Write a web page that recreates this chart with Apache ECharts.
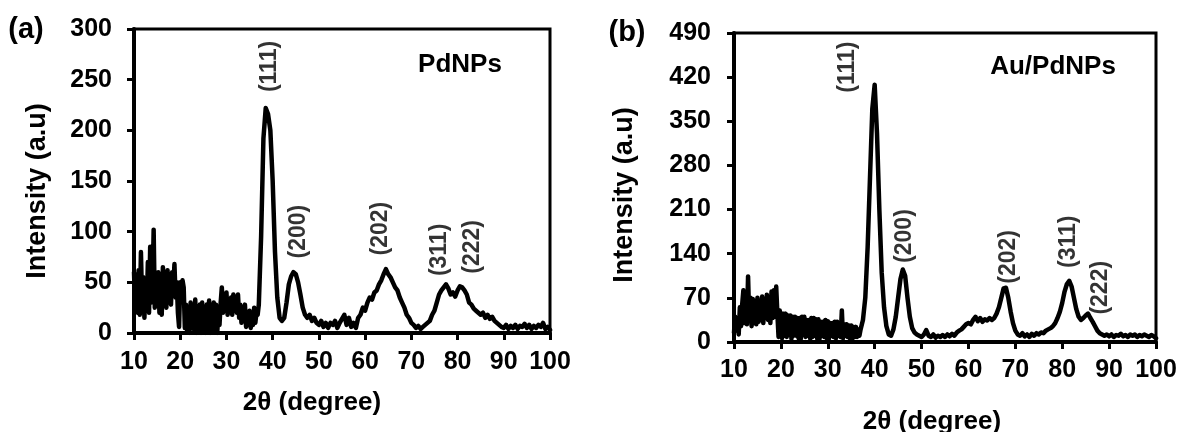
<!DOCTYPE html>
<html>
<head>
<meta charset="utf-8">
<script src="https://cdn.jsdelivr.net/npm/echarts@6/dist/echarts.min.js"></script>
<style>
  html, body { margin: 0; padding: 0; background: #fff; }
  #chart { width: 1180px; height: 432px; }
</style>
</head>
<body>
<div id="chart"></div>
<script>
// XRD patterns: the noisy low-angle part is sampled every 0.25° (10–36.75°),
// the rest every 0.5° (37–100°)
const lowStart = 10, lowStep = 0.25;
const highStart = 37, highStep = 0.5;

// (a) PdNPs intensity, 10–36.75°
const lowPd = [
  60, 25, 45, 20,   62, 18, 80, 30,   55, 15, 48, 25,   70, 20, 85, 30,
  40, 102, 25, 55,  30, 60, 20, 50,   18, 65, 30, 55,   25, 62, 35, 50,
  28, 60, 45, 68,   35, 50, 20, 6,    50, 40, 52, 45,   5, 28, 2, 25,
  0, 30, 8, 22,     3, 33, 0, 25,     10, 28, 0, 30,    5, 25, 0, 28,
  8, 32, 0, 25,     5, 30, 2, 28,     0, 20, 8, 30,     45, 20, 38, 25,
  40, 18, 32, 25,   35, 18, 38, 22,   30, 20, 38, 15,   28, 10, 25, 12,
  28, 6, 20, 8,     22, 5, 18, 8,     25, 10, 20, 18
];
// (a) PdNPs intensity, 37–100°
const highPd = [
  28, 95, 192, 222, 216, 200,
  150, 80, 35, 15, 12, 15, 30, 48, 56, 60,
  58, 50, 38, 25, 18, 15, 18, 12, 15, 10,
  8, 12, 6, 10, 5, 10, 8, 12, 5, 10,
  14, 18, 8, 15, 6, 10, 5, 15, 18, 25,
  22, 30, 35, 33, 40, 42, 48, 52, 58, 63,
  58, 55, 50, 45, 42, 35, 30, 25, 18, 15,
  10, 8, 5, 7, 4, 6, 8, 10, 12, 18,
  22, 30, 38, 42, 45, 48, 44, 38, 40, 36,
  42, 46, 45, 42, 38, 30, 28, 24, 22, 20,
  18, 20, 15, 18, 14, 16, 12, 10, 8, 6,
  5, 8, 4, 7, 5, 8, 4, 7, 6, 9,
  5, 8, 4, 7, 5, 8, 6, 10, 4, 6,
  3
];

// (b) Au/PdNPs intensity, 10–36.75°
const lowAuPd = [
  15, 40, 20, 35,   12, 55, 25, 60,   82, 30, 65, 28,   104, 35, 70, 25,
  68, 30, 65, 28,   70, 32, 60, 35,   72, 30, 68, 38,   75, 35, 70, 30,
  80, 38, 82, 40,   88, 45, 8, 50,    50, 6, 45, 10,    45, 8, 42, 12,
  42, 5, 40, 10,    40, 10, 38, 6,    38, 5, 40, 12,    40, 8, 35, 10,
  35, 5, 38, 8,     38, 10, 36, 5,    36, 5, 32, 10,    32, 8, 35, 6,
  33, 5, 30, 10,    30, 8, 32, 6,     32, 10, 30, 8,    50, 6, 28, 10,
  28, 8, 26, 5,     26, 5, 24, 8,     24, 8, 20, 10
];
// (b) Au/PdNPs intensity, 37–100°
const highAuPd = [
  20, 35, 70, 150, 260, 370,
  408, 330, 210, 110, 55, 25, 12, 10, 20, 40,
  70, 100, 115, 105, 70, 40, 22, 15, 12, 10,
  8, 12, 19, 10, 8, 12, 7, 10, 8, 11,
  8, 12, 9, 13, 10, 15, 18, 20, 24, 28,
  30, 28, 35, 40, 33, 38, 32, 36, 34, 38,
  35, 38, 45, 55, 70, 85, 86, 70, 48, 30,
  18, 12, 10, 14, 9, 12, 8, 13, 10, 14,
  12, 15, 14, 18, 20, 22, 25, 30, 38, 48,
  62, 80, 92, 97, 88, 70, 52, 40, 35, 38,
  42, 45, 38, 32, 25, 18, 14, 12, 10, 12,
  9, 12, 8, 11, 10, 13, 9, 11, 8, 12,
  10, 12, 8, 11, 9, 12, 10, 8, 11, 9,
  6
];

// Miller-index annotations: label, 2θ position, intensity at label centre
const peakNames = ['(111)', '(200)', '(202)', '(311)', '(222)'];
const peakThetaPd = [39.3, 45.6, 63.4, 76.2, 83.3];
const peakLabelYPd = [263, 100, 103, 82, 85];
const peakThetaAuPd = [34.3, 46.5, 68.5, 81.3, 88.1];
const peakLabelYAuPd = [436, 168, 135, 159, 86];

// axis ranges
const xMin = 10, xMax = 100, xInterval = 10;
const yMaxPd = 300, yIntervalPd = 50;
const yMaxAuPd = 490, yIntervalAuPd = 70;

const FONT = '"Liberation Sans", Arial, sans-serif';

function toPairs(low, high) {
  const pts = low.map((v, i) => [lowStart + i * lowStep, v]);
  return pts.concat(high.map((v, i) => [highStart + i * highStep, v]));
}
function peakPoints(thetas, ys) {
  return peakNames.map((n, i) => ({ name: n, value: [thetas[i], ys[i]] }));
}

function xAxisCfg(gridIndex, margin) {
  return {
    type: 'value', gridIndex, min: xMin, max: xMax, interval: xInterval,
    axisLine: { show: true, onZero: false, lineStyle: { color: '#000', width: 4 } },
    axisTick: { show: true, inside: false, length: 7, lineStyle: { color: '#000', width: 3 } },
    axisLabel: { margin, color: '#000', fontFamily: FONT, fontWeight: 'bold', fontSize: 25 },
    splitLine: { show: false }
  };
}
function yAxisCfg(gridIndex, max, interval, margin) {
  return {
    type: 'value', gridIndex, min: 0, max, interval,
    axisLine: { show: true, onZero: false, lineStyle: { color: '#000', width: 4 } },
    axisTick: { show: true, inside: false, length: 7, lineStyle: { color: '#000', width: 3 } },
    axisLabel: { margin, color: '#000', fontFamily: FONT, fontWeight: 'bold', fontSize: 25 },
    splitLine: { show: false }
  };
}
function curve(xi, yi, low, high) {
  return {
    type: 'line', xAxisIndex: xi, yAxisIndex: yi, data: toPairs(low, high),
    showSymbol: false, smooth: false,
    lineStyle: { color: '#000', width: 4.5, join: 'round', cap: 'round' },
    z: 3
  };
}
function peakLabels(xi, yi, thetas, ys) {
  return {
    type: 'scatter', xAxisIndex: xi, yAxisIndex: yi, data: peakPoints(thetas, ys),
    symbolSize: 0, silent: true,
    label: {
      show: true, position: 'inside', rotate: 90, formatter: '{b}',
      color: '#000', fontFamily: FONT, fontWeight: 'bold', fontSize: 23
    },
    z: 4
  };
}
function text(str, x, y, size, rotation) {
  return {
    type: 'text', x, y, rotation: rotation || 0,
    style: {
      text: str, align: 'center', verticalAlign: 'middle', fill: '#000',
      font: 'bold ' + size + 'px ' + FONT
    }
  };
}

const chart = echarts.init(document.getElementById('chart'), null, { renderer: 'canvas' });
chart.setOption({
  animation: false,
  backgroundColor: '#fff',
  grid: [
    { left: 134, top: 29, width: 416, height: 304, show: true, borderColor: '#000', borderWidth: 3, backgroundColor: 'transparent' },
    { left: 734, top: 33, width: 422, height: 309, show: true, borderColor: '#000', borderWidth: 3, backgroundColor: 'transparent' }
  ],
  xAxis: [xAxisCfg(0, 17), xAxisCfg(1, 16)],
  yAxis: [yAxisCfg(0, yMaxPd, yIntervalPd, 22), yAxisCfg(1, yMaxAuPd, yIntervalAuPd, 23)],
  series: [
    curve(0, 0, lowPd, highPd),
    curve(1, 1, lowAuPd, highAuPd),
    peakLabels(0, 0, peakThetaPd, peakLabelYPd),
    peakLabels(1, 1, peakThetaAuPd, peakLabelYAuPd)
  ],
  graphic: [
    text('(a)', 26, 30, 29),
    text('(b)', 627, 33, 29),
    text('PdNPs', 460, 65, 26),
    text('Au/PdNPs', 1053, 67, 26),
    text('2θ (degree)', 312, 403, 26),
    text('2θ (degree)', 932, 422, 26),
    text('Intensity (a.u)', 38, 191, 27, Math.PI / 2),
    text('Intensity (a.u)', 625, 195, 27, Math.PI / 2)
  ]
});
</script>
</body>
</html>
